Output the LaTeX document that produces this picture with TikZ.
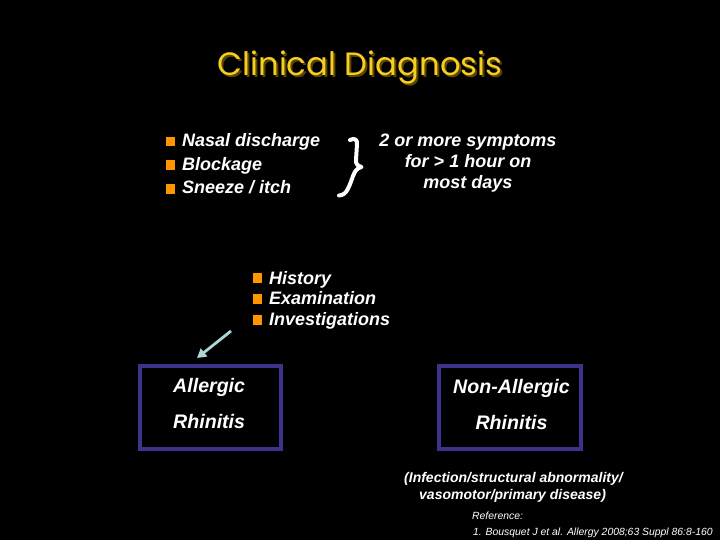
\documentclass[tikz,border=0pt]{standalone}
\usepackage{fontspec}
\setmainfont{Liberation Sans}
\newfontfamily\titlefont{Poppins}
\usetikzlibrary{arrows.meta}
\definecolor{titleyellow}{RGB}{245,205,35}
\definecolor{titleshadow}{RGB}{90,70,0}
\definecolor{bulletorange}{RGB}{255,150,0}
\definecolor{boxblue}{RGB}{60,52,140}
\definecolor{arrowcyan}{RGB}{170,215,215}
\tikzset{
  txt/.style={inner sep=0pt, text=white, font=\fontsize{18}{20}\selectfont\bfseries\itshape},
  bul/.style={fill=bulletorange, minimum size=9.5pt, inner sep=0pt, draw=none},
  dxbox/.style={draw=boxblue, line width=4pt},
  boxtxt/.style={inner sep=0pt, text=white, font=\fontsize{19.6}{21}\selectfont\bfseries\itshape},
  small/.style={inner sep=0pt, text=white, font=\fontsize{14}{15}\selectfont\bfseries\itshape},
  refx/.style={inner sep=0pt, text=white, font=\fontsize{10.4}{12}\selectfont\itshape},
}
\newcommand{\shadowtitle}[1]{\makebox[0pt][l]{\hspace{2pt}\raisebox{-2pt}{\textcolor{titleshadow}{#1}}}#1}
\begin{document}
\begin{tikzpicture}[x=1pt,y=-1pt]
\fill[black] (0,0) rectangle (720,540);
\useasboundingbox (0,0) rectangle (720,540);
% title
\node[anchor=base, inner sep=0pt, text=titleyellow, font=\titlefont\fontsize{32.3}{34}\selectfont] (title) at (360,76) {\shadowtitle{Clinical Diagnosis}};
% symptoms list
\node[bul] (b1) at (170.5,141.5) {};
\node[bul] (b2) at (170.5,165) {};
\node[bul] (b3) at (170.5,189) {};
\node[txt, anchor=base west] (s1) at (182,147) {Nasal discharge};
\node[txt, anchor=base west] (s2) at (182,171) {Blockage};
\node[txt, anchor=base west] (s3) at (182,194) {Sneeze / itch};
% brace
\draw[white, line width=4pt, line cap=round, line join=round]
  (350,140) .. controls (354,138) and (357.5,139) .. (357,144)
  -- (356,160) .. controls (355.5,164) and (358,166) .. (361.5,167)
  .. controls (357,168) and (355,171) .. (353,176)
  .. controls (349,187) and (347,195) .. (339,195.5);
% criteria text
\node[txt, anchor=base] (c1) at (468,147) {2 or more symptoms};
\node[txt, anchor=base] (c2) at (468,168) {for > 1 hour on};
\node[txt, anchor=base] (c3) at (468,189) {most days};
% history list
\node[bul] (h1b) at (257.5,278) {};
\node[bul] (h2b) at (257.5,299) {};
\node[bul] (h3b) at (257.5,320) {};
\node[txt, anchor=base west] (h1) at (269,284) {History};
\node[txt, anchor=base west] (h2) at (269,304) {Examination};
\node[txt, anchor=base west] (h3) at (269,325) {Investigations};
% boxes
\draw[dxbox] (139.5,366) rectangle (281,449);
\node[inner sep=0pt, minimum width=141.5pt, minimum height=83pt] (allergic) at (210.25,407.5) {};
\draw[dxbox] (439,366) rectangle (581,449);
\node[inner sep=0pt, minimum width=142pt, minimum height=83pt] (nonallergic) at (510,407.5) {};
\node[boxtxt, anchor=base west] (a1) at (173,392) {Allergic};
\node[boxtxt, anchor=base west] (a2) at (173,428) {Rhinitis};
\node[boxtxt, anchor=base] (n1) at (511.5,393) {Non-Allergic};
\node[boxtxt, anchor=base] (n2) at (511.5,429) {Rhinitis};
% arrow
\coordinate (arrstart) at (231,331);
\coordinate (arrend) at (197,358);
\draw[arrowcyan, line width=2.8pt, -{Triangle[length=9pt,width=10pt]}] (arrstart) -- (arrend);
% non-allergic causes
\node[small, anchor=base west] (p1) at (404,482) {(Infection/structural abnormality/};
\node[small, anchor=base west] (p2) at (419,499) {vasomotor/primary disease)};
% reference
\node[refx, anchor=base west] (r1) at (472,519) {Reference:};
\node[refx, anchor=base west] (r2) at (473,535) {1. Bousquet J et al. Allergy 2008;63 Suppl 86:8-160};
\end{tikzpicture}
\end{document}
